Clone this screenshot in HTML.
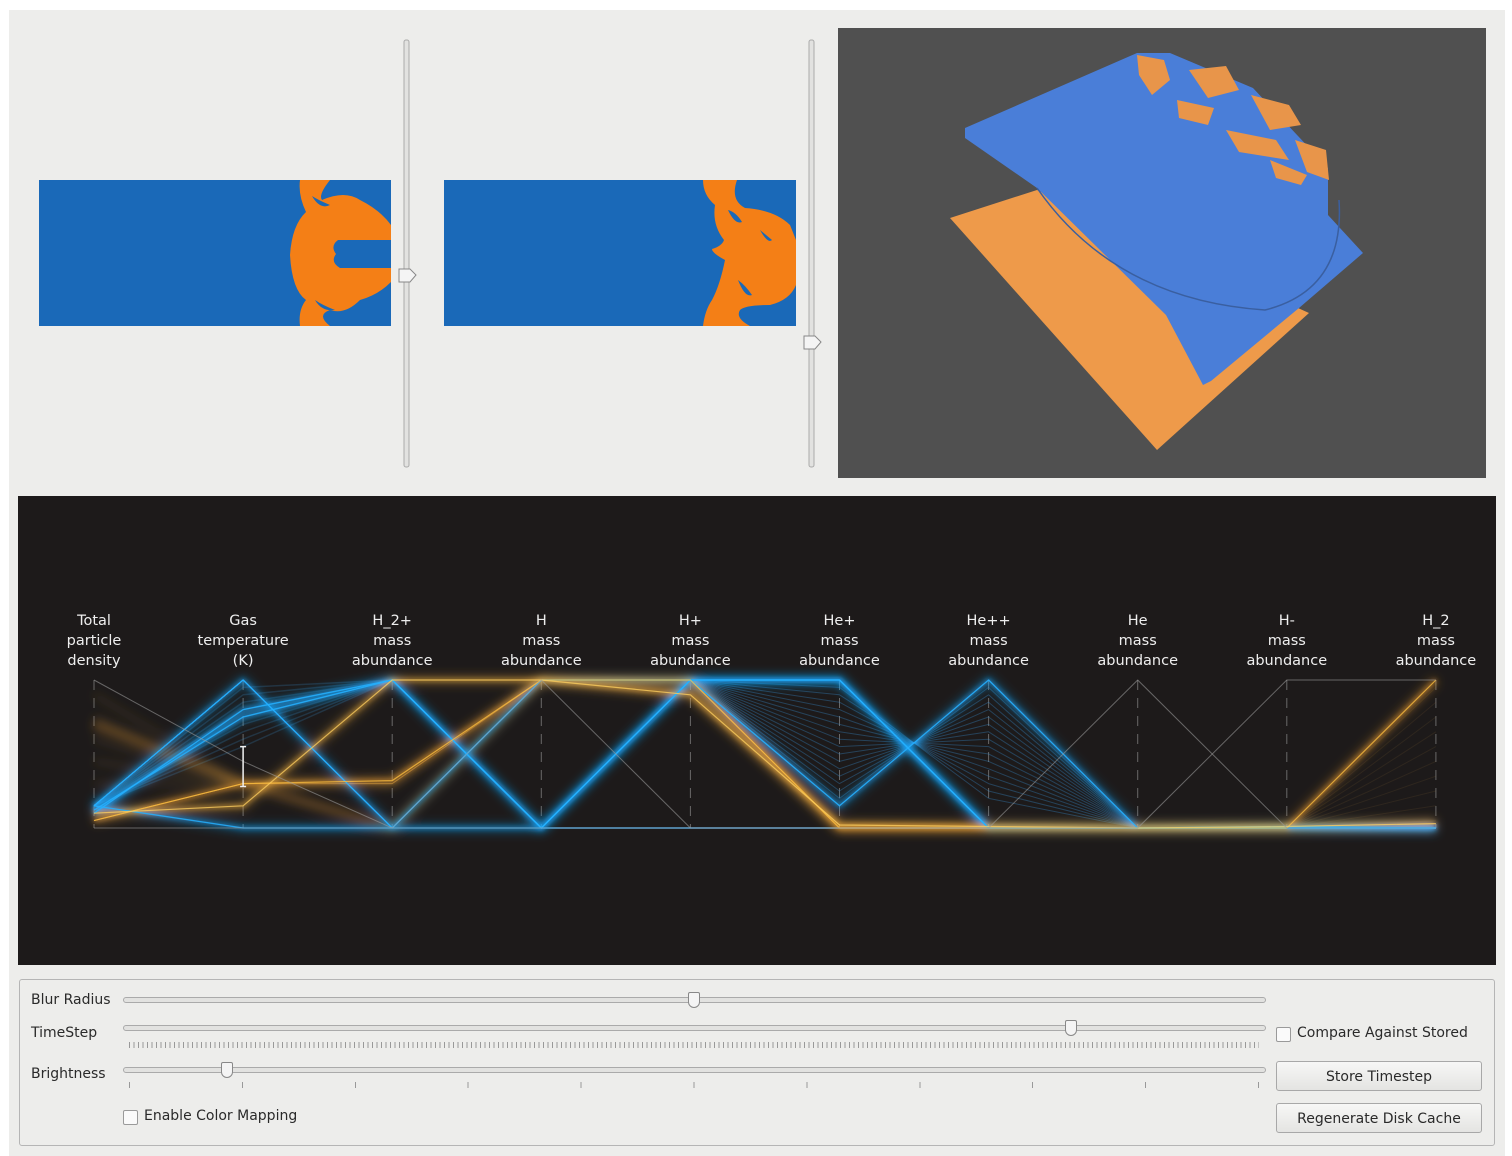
<!DOCTYPE html>
<html><head><meta charset="utf-8">
<style>
body{margin:0;width:1512px;height:1156px;background:#fff;position:relative;overflow:hidden;font-family:"DejaVu Sans","Liberation Sans",sans-serif;}
.abs{position:absolute;}
.lbl{font-size:14px;color:#2a2a2a;}
.btn{position:absolute;left:1276px;width:206px;height:30px;border:1px solid #a8a8a8;border-radius:3px;background:linear-gradient(#f7f7f6,#e4e4e2);font-size:14px;color:#2a2a2a;text-align:center;line-height:30px;box-sizing:border-box;}
.cb{position:absolute;width:13px;height:13px;border:1px solid #9a9a9a;border-radius:2px;background:#fafafa;}
.track{position:absolute;left:123px;width:1141px;height:4px;border:1px solid #aaa;border-radius:3px;background:#e2e2e0;}
.knob{position:absolute;width:10px;height:14px;border:1px solid #888;border-radius:2px 2px 6px 6px;background:#f4f4f4;}
</style></head>
<body>
<div class="abs" style="left:9px;top:10px;width:1496px;height:1146px;background:#ededeb;"></div>

<svg class="abs" style="left:0;top:0" width="1512" height="500">
  <g>
    <rect x="39" y="180" width="352" height="146" fill="#1a69b8"/>
    <path fill="#f47f16" d="M300 180 H330 Q318 195 322 200 Q345 190 360 200 Q380 210 391 225 V282 Q378 295 360 300 Q345 315 330 310 Q316 315 330 326 H300 Q298 310 306 300 Q292 290 290 255 Q292 225 306 212 Q298 195 300 180Z"/>
    <path fill="#1a69b8" d="M338 240 H391 V268 H340 Q330 262 336 254 Q330 246 338 240Z"/>
    <path fill="#1a69b8" d="M312 196 Q320 210 330 205 Q318 200 312 196Z M315 300 Q322 312 335 310 Q322 305 315 300Z"/>
  </g>
  <g>
    <rect x="444" y="180" width="352" height="146" fill="#1a69b8"/>
    <path fill="#f47f16" d="M703 180 H737 Q730 200 745 208 Q775 210 790 225 L796 240 V285 Q790 300 770 305 Q745 305 740 310 Q735 318 750 326 H703 Q705 310 712 300 Q720 285 725 260 Q712 253 712 249 Q722 246 724 240 Q712 225 715 205 Q703 195 703 180Z"/>
    <path fill="#1a69b8" d="M728 210 Q735 225 742 222 Q736 212 728 210Z M738 280 Q745 298 752 295 Q745 285 738 280Z M760 230 Q768 244 772 240 Z"/>
  </g>
  <g>
    <rect x="404" y="40" width="5" height="427" rx="2" fill="#e2e2e0" stroke="#aaa"/>
    <path d="M399 269 H410 L416 275 L410 282 H399Z" fill="#f4f4f4" stroke="#888"/>
  </g>
  <g>
    <rect x="809" y="40" width="5" height="427" rx="2" fill="#e2e2e0" stroke="#aaa"/>
    <path d="M804 336 H815 L821 342 L815 349 H804Z" fill="#f4f4f4" stroke="#888"/>
  </g>
  <g>
    <rect x="838" y="28" width="648" height="450" fill="#505050"/>
    <polygon fill="#ee9a4a" points="950,218 1037,190 1309,313 1157,450"/>
    <polygon fill="#4a7ed8" points="965,128 1137,53 1170,53 1253,88 1328,168 1328,215 1363,253 1299,308 1211,381 1203,385 1166,315 1037,188 965,138"/>
    <path fill="none" stroke="#3a5fa0" stroke-width="1.5" d="M1037 188 Q1115 300 1265 310 Q1345 290 1339 200"/>
    <polygon fill="#e8954a" points="1137,55 1164,60 1170,80 1152,95 1139,75"/>
    <polygon fill="#e8954a" points="1189,70 1226,66 1239,90 1208,98"/>
    <polygon fill="#e8954a" points="1251,95 1289,105 1301,125 1270,130"/>
    <polygon fill="#e8954a" points="1177,100 1214,108 1208,125 1179,118"/>
    <polygon fill="#e8954a" points="1226,130 1276,140 1289,160 1239,152"/>
    <polygon fill="#e8954a" points="1295,140 1326,150 1329,180 1307,172"/>
    <polygon fill="#e8954a" points="1270,160 1307,175 1301,185 1276,178"/>
  </g>
</svg>

<div class="abs" style="left:18px;top:496px;width:1478px;height:469px;background:#1d1a1a;"></div>
<svg class="abs" id="pc" style="left:0;top:0" width="1512" height="1000">
  <defs>
    <filter id="glow" x="-5%" y="-20%" width="110%" height="140%"><feGaussianBlur stdDeviation="2.5"/></filter>
    <filter id="soft" x="-5%" y="-20%" width="110%" height="140%"><feGaussianBlur stdDeviation="5"/></filter>
  </defs>
  <g id="axes"></g><g id="fans"></g><g id="softl" filter="url(#soft)"></g><g id="glowl" filter="url(#glow)"></g><g id="lines"></g><g id="labels"></g>
</svg>

<div class="abs" style="left:19px;top:979px;width:1476px;height:167px;border:1px solid #b5b5b5;border-radius:3px;box-sizing:border-box;"></div>
<div class="abs lbl" style="left:31px;top:992px">Blur Radius</div>
<div class="track" style="top:997px"></div>
<div class="knob" style="left:688px;top:992px"></div>
<div class="abs lbl" style="left:31px;top:1025px">TimeStep</div>
<div class="track" style="top:1025px"></div>
<div class="knob" style="left:1065px;top:1020px"></div>
<div class="abs" style="left:129px;top:1042px;width:1130px;height:6px;background:repeating-linear-gradient(90deg,#999 0 1px,transparent 1px 4.5px);"></div>
<div class="abs lbl" style="left:31px;top:1066px">Brightness</div>
<div class="track" style="top:1067px"></div>
<div class="knob" style="left:221px;top:1062px"></div>
<div class="abs" style="left:129px;top:1082px;width:1131px;height:6px;background:repeating-linear-gradient(90deg,#999 0 1px,transparent 1px 112.9px);"></div>
<div class="cb" style="left:123px;top:1110px"></div>
<div class="abs lbl" style="left:144px;top:1108px">Enable Color Mapping</div>
<div class="cb" style="left:1276px;top:1027px"></div>
<div class="abs lbl" style="left:1297px;top:1025px">Compare Against Stored</div>
<div class="btn" style="top:1061px">Store Timestep</div>
<div class="btn" style="top:1103px">Regenerate Disk Cache</div>

<script>
const axisNames = [["Total","particle","density"],["Gas","temperature","(K)"],["H_2+","mass","abundance"],["H","mass","abundance"],["H+","mass","abundance"],["He+","mass","abundance"],["He++","mass","abundance"],["He","mass","abundance"],["H-","mass","abundance"],["H_2","mass","abundance"]];
const blueA = [0.15,1.0,0.0,1.0,1.0,1.0,0.0,0.0,0.0,0.0];
const blueB = [0.15,0.0,0.0,0.0,1.0,1.0,0.0,0.0,0.0,0.0];
const blueC = [0.10,0.80,1.0,0.0,1.0,0.15,1.0,0.0,0.0,0.0];
const blueD = [0.12,0.75,1.0,0.0,1.0,1.0,0.0,0.0,0.01,0.0];
const orangeA = [0.05,0.30,0.32,1.0,1.0,0.0,0.0,0.0,0.0,1.0];
const orangeB = [0.70,0.30,0.0,1.0,0.92,0.0,0.0,0.0,0.0,0.03];
const orangeC = [0.10,0.15,1.0,1.0,0.90,0.02,0.01,0.0,0.01,0.03];
const grayA = [1.0,0.45,0.0,1.0,0.0,0.0,0.0,1.0,0.0,0.0];
const grayB = [0.0,0.0,0.0,0.0,0.0,0.0,0.0,0.0,1.0,1.0];
const fanHeP = [0.15,0.2,0.25,0.3,0.35,0.4,0.45,0.5,0.55,0.6,0.65,0.7,0.75,0.8,0.85,0.9,0.95];
const fanHePP = [1.0,0.95,0.9,0.85,0.8,0.75,0.7,0.65,0.6,0.55,0.5,0.45,0.4,0.35,0.3,0.25,0.2];
const fanTemp = [0.55,0.6,0.65,0.7,0.75,0.8,0.85,0.9,0.95];
const fanH2 = [0.05,0.15,0.25,0.35,0.45,0.55,0.65,0.75,0.85,0.95];
const fanDens = [0.3,0.45,0.6,0.75,0.9];
const brushRange = [0.28,0.55];

const X0=94, XS=149.1, YT=680, YB=828;
const xA=i=>X0+i*XS, yV=v=>YB-v*(YB-YT);
const NS="http://www.w3.org/2000/svg";
function mk(t,a,p){const e=document.createElementNS(NS,t);for(const k in a)e.setAttribute(k,a[k]);p.appendChild(e);return e;}
const pts=vals=>vals.map((v,i)=>xA(i).toFixed(1)+","+yV(v).toFixed(1)).join(" ");
const axes=document.getElementById("axes"),fans=document.getElementById("fans"),soft=document.getElementById("softl"),glow=document.getElementById("glowl"),lines=document.getElementById("lines"),labels=document.getElementById("labels");

axisNames.forEach((nm,i)=>{
  const ax=mk("line",{x1:xA(i),x2:xA(i),y1:YT,y2:YB,stroke:"#8a8a8a","stroke-width":1,"stroke-dasharray":"10,8",opacity:0.7},axes);
  
  
  nm.forEach((s,j)=>{
    const t=mk("text",{x:xA(i),y:625+j*20,"text-anchor":"middle",fill:"#eee","font-size":"14.5","font-family":"DejaVu Sans, Liberation Sans, sans-serif"},labels);
    t.textContent=s;
    
    
  });
});

function poly(vals,color,w,op,parent){
  const p=mk("polyline",{points:pts(vals),fill:"none",stroke:color,"stroke-width":w,opacity:op,"stroke-linejoin":"round"},parent);
  
  
  return p;
}
fanHeP.forEach((v,k)=>{ poly([0.15,1.0,0.0,1.0,1.0,v,fanHePP[k],0.0,0.0,0.0],"#3a8fd0",1,0.35,fans); });
fanTemp.forEach(v=>{ poly([0.15,v,1.0,0.0,0.0,0.0,0.0,0.0,0.0,0.0],"#3aa0e8",1.5,0.2,fans); });
fanH2.forEach(v=>{ poly([0.05,0.3,0.3,1.0,1.0,0.0,0.0,0.0,0.0,v],"#b08040",1,0.12,fans); });
fanDens.forEach(v=>{ poly([v,0.3,0.3,1.0,1.0,0.0,0.0,0.0,0.0,0.0],"#c09040",3,0.25,soft); });
[[blueA,"#18a8ff"],[blueB,"#18a8ff"],[blueC,"#18a8ff"],[blueD,"#18a8ff"],[orangeA,"#f0a030"],[orangeB,"#f0a030"],[orangeC,"#f0b040"]].forEach(([d,c])=>poly(d,c,8,0.35,soft));
[[blueA,"#18a8ff"],[blueB,"#18a8ff"],[blueC,"#18a8ff"],[blueD,"#18a8ff"],[orangeA,"#f0a030"],[orangeC,"#f0b040"]].forEach(([d,c])=>poly(d,c,4,0.5,glow));
[[blueA,"#25b0ff"],[blueB,"#25b0ff"],[blueC,"#25b0ff"],[blueD,"#25b0ff"]].forEach(([d,c])=>poly(d,c,1.3,0.85,lines));
[[orangeA,"#ffc040"],[orangeC,"#ffd060"]].forEach(([d,c])=>poly(d,c,1.2,0.75,lines));
[grayA,grayB].forEach(d=>poly(d,"#9a9a9a",1,0.6,lines));
const bx=xA(1);
const br=mk("path",{d:`M${bx} ${yV(brushRange[1])} V${yV(brushRange[0])} M${bx-3} ${yV(brushRange[1])} H${bx+3} M${bx-3} ${yV(brushRange[0])} H${bx+3}`,stroke:"#f0f0f0","stroke-width":1.5,fill:"none"},lines);


</script>
</body></html>
